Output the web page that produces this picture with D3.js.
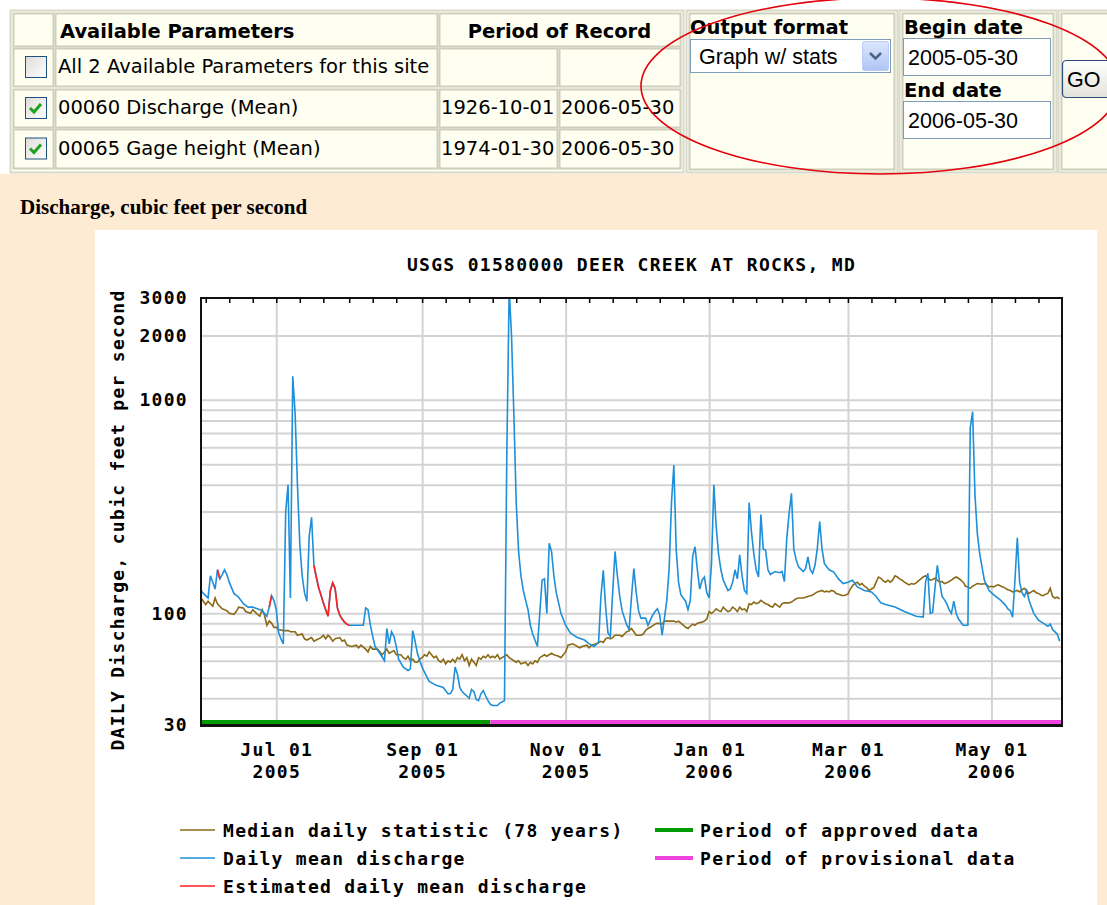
<!DOCTYPE html>
<html>
<head>
<meta charset="utf-8">
<script src="https://cdn.jsdelivr.net/npm/d3@7"></script>
<style>
  html, body { margin: 0; padding: 0; background: #fff; }
  svg { display: block; }
</style>
</head>
<body>
<script>
// ---- form table ----
const paramNames = ['All 2 Available Parameters for this site', '00060 Discharge (Mean)', '00065 Gage height (Mean)'];
const paramChecked = [false, true, true];
const paramBegin = ['', '1926-10-01', '1974-01-30'];
const paramEnd = ['', '2006-05-30', '2006-05-30'];
const outputFormat = 'Graph w/ stats';
const beginDate = '2005-05-30';
const endDate = '2006-05-30';

// ---- chart ----
const chartHeading = 'Discharge, cubic feet per second';
const chartTitle = 'USGS 01580000 DEER CREEK AT ROCKS, MD';
const yLabel = 'DAILY Discharge, cubic feet per second';
const xDomain = ['2005-05-30', '2006-05-31'];
const yDomain = [30, 3000];
const yTickValues = [30, 100, 1000, 2000, 3000];
const yGridValues = [40, 50, 60, 70, 80, 90, 100, 200, 300, 400, 500, 600, 700, 800, 900, 1000, 2000];
const xLabelDates = ['2005-07-01', '2005-09-01', '2005-11-01', '2006-01-01', '2006-03-01', '2006-05-01'];
const approvedPeriod = ['2005-05-30', '2005-09-30'];
const provisionalPeriod = ['2005-09-30', '2006-05-31'];

// daily mean discharge, cfs
const dailyMean = [
  ['2005-05-30',128],['2005-05-31',124],['2005-06-02',118],['2005-06-03',150],['2005-06-04',140],
  ['2005-06-05',130],['2005-06-06',160],['2005-06-07',145],['2005-06-08',152],['2005-06-09',160],
  ['2005-06-10',152],['2005-06-11',140],['2005-06-13',124],['2005-06-15',119],['2005-06-17',111],
  ['2005-06-19',107],['2005-06-21',107],['2005-06-23',105],['2005-06-25',103],['2005-06-27',97],
  ['2005-06-28',107],['2005-06-29',121],['2005-06-30',115],['2005-07-01',104],['2005-07-02',81],
  ['2005-07-03',76],['2005-07-04',72],['2005-07-05',300],['2005-07-06',400],['2005-07-07',118],
  ['2005-07-08',1290],['2005-07-09',870],['2005-07-10',400],['2005-07-11',211],['2005-07-12',150],
  ['2005-07-13',125],['2005-07-14',114],['2005-07-15',230],['2005-07-16',282],['2005-07-17',168],
  ['2005-07-18',148],['2005-07-19',132],['2005-07-20',122],['2005-07-21',112],['2005-07-22',104],
  ['2005-07-23',97],['2005-07-24',128],['2005-07-25',139],['2005-07-26',131],['2005-07-27',106],
  ['2005-07-28',98],['2005-07-29',94],['2005-07-30',91],['2005-07-31',89],['2005-08-01',88],
  ['2005-08-07',88],['2005-08-08',106],['2005-08-09',104],['2005-08-10',88],['2005-08-11',78],
  ['2005-08-12',70],['2005-08-14',65],['2005-08-16',60],['2005-08-17',85],['2005-08-18',72],
  ['2005-08-19',82],['2005-08-20',78],['2005-08-21',70],['2005-08-22',61],['2005-08-24',56],
  ['2005-08-26',54],['2005-08-27',55],['2005-08-28',83],['2005-08-29',74],['2005-08-30',65],
  ['2005-08-31',60],['2005-09-01',56],['2005-09-02',53],['2005-09-04',48],['2005-09-07',46],
  ['2005-09-10',45],['2005-09-12',42],['2005-09-13',42],['2005-09-14',44],['2005-09-15',56],
  ['2005-09-16',52],['2005-09-17',45],['2005-09-18',43],['2005-09-19',42],['2005-09-20',41],
  ['2005-09-21',40],['2005-09-22',44],['2005-09-23',43],['2005-09-24',39.5],['2005-09-25',39],
  ['2005-09-26',42],['2005-09-27',43.5],['2005-09-28',41],['2005-09-29',39],['2005-09-30',37.5],
  ['2005-10-01',37],['2005-10-03',37],['2005-10-04',38],['2005-10-06',39],['2005-10-07',560],
  ['2005-10-08',3300],['2005-10-09',2000],['2005-10-10',850],['2005-10-11',330],['2005-10-12',195],
  ['2005-10-13',150],['2005-10-14',128],['2005-10-15',115],['2005-10-16',104],['2005-10-17',88],
  ['2005-10-18',80],['2005-10-20',70],['2005-10-21',100],['2005-10-22',143],['2005-10-23',145],
  ['2005-10-24',100],['2005-10-25',213],['2005-10-26',195],['2005-10-27',150],['2005-10-28',125],
  ['2005-10-29',112],['2005-10-30',100],['2005-11-01',88],['2005-11-03',81],['2005-11-06',77],
  ['2005-11-09',75],['2005-11-11',72],['2005-11-13',70],['2005-11-15',73],['2005-11-16',120],
  ['2005-11-17',159],['2005-11-18',107],['2005-11-19',81],['2005-11-20',78],['2005-11-21',126],
  ['2005-11-22',195],['2005-11-23',150],['2005-11-24',120],['2005-11-25',103],['2005-11-27',88],
  ['2005-11-28',84],['2005-11-29',120],['2005-11-30',162],['2005-12-01',125],['2005-12-02',103],
  ['2005-12-03',95],['2005-12-05',95],['2005-12-06',88],['2005-12-07',93],['2005-12-08',98],
  ['2005-12-09',102],['2005-12-10',105],['2005-12-11',98],['2005-12-12',79],['2005-12-13',95],
  ['2005-12-14',115],['2005-12-15',162],['2005-12-16',330],['2005-12-17',495],['2005-12-18',200],
  ['2005-12-19',140],['2005-12-20',122],['2005-12-22',114],['2005-12-23',104],['2005-12-24',115],
  ['2005-12-25',185],['2005-12-26',205],['2005-12-27',160],['2005-12-28',130],['2005-12-29',143],
  ['2005-12-30',148],['2005-12-31',125],['2006-01-01',118],['2006-01-02',171],['2006-01-03',400],
  ['2006-01-04',255],['2006-01-05',190],['2006-01-06',160],['2006-01-07',143],['2006-01-09',128],
  ['2006-01-10',130],['2006-01-11',140],['2006-01-12',160],['2006-01-13',145],['2006-01-14',188],
  ['2006-01-15',150],['2006-01-16',128],['2006-01-17',124],['2006-01-18',330],['2006-01-19',240],
  ['2006-01-20',190],['2006-01-21',160],['2006-01-22',148],['2006-01-23',290],['2006-01-24',200],
  ['2006-01-25',198],['2006-01-26',160],['2006-01-27',152],['2006-01-29',157],['2006-01-31',155],
  ['2006-02-01',157],['2006-02-02',141],['2006-02-03',224],['2006-02-04',294],['2006-02-05',365],
  ['2006-02-06',200],['2006-02-07',178],['2006-02-08',165],['2006-02-10',157],['2006-02-11',162],
  ['2006-02-12',184],['2006-02-13',160],['2006-02-14',154],['2006-02-15',168],['2006-02-16',202],
  ['2006-02-17',269],['2006-02-18',200],['2006-02-19',171],['2006-02-21',160],['2006-02-23',156],
  ['2006-02-25',145],['2006-02-27',138],['2006-03-01',140],['2006-03-03',143],['2006-03-04',138],
  ['2006-03-05',133],['2006-03-08',128],['2006-03-11',126],['2006-03-13',120],['2006-03-15',112],
  ['2006-03-17',110],['2006-03-21',107],['2006-03-25',102],['2006-03-30',97],['2006-04-02',96],
  ['2006-04-03',140],['2006-04-04',154],['2006-04-05',100],['2006-04-06',101],['2006-04-07',131],
  ['2006-04-08',168],['2006-04-09',140],['2006-04-10',120],['2006-04-11',116],['2006-04-12',111],
  ['2006-04-13',104],['2006-04-14',100],['2006-04-15',114],['2006-04-16',100],['2006-04-17',94],
  ['2006-04-19',88],['2006-04-21',88],['2006-04-22',740],['2006-04-23',880],['2006-04-24',360],
  ['2006-04-25',237],['2006-04-26',191],['2006-04-27',165],['2006-04-28',143],['2006-04-30',128],
  ['2006-05-02',122],['2006-05-05',115],['2006-05-07',109],['2006-05-08',105],['2006-05-09',103],
  ['2006-05-10',96],['2006-05-11',143],['2006-05-12',226],['2006-05-13',140],['2006-05-14',125],
  ['2006-05-15',120],['2006-05-16',128],['2006-05-17',115],['2006-05-19',100],['2006-05-21',93],
  ['2006-05-23',90],['2006-05-25',87],['2006-05-26',89],['2006-05-27',84],['2006-05-29',80],
  ['2006-05-30',74]
];

// estimated days, drawn in red over the daily line
const estimatedJun06 = [['2005-06-06',160],['2005-06-07',145]];
const estimatedJun29 = [['2005-06-28',107],['2005-06-29',121]];
const estimatedJul = [
  ['2005-07-17',168],['2005-07-18',148],['2005-07-19',132],['2005-07-20',122],['2005-07-21',112],
  ['2005-07-22',104],['2005-07-23',97],['2005-07-24',128],['2005-07-25',139],['2005-07-26',131],
  ['2005-07-27',106],['2005-07-28',98],['2005-07-29',94],['2005-07-30',91],['2005-07-31',89],
  ['2005-08-01',88]
];

// median daily statistic (78 years)
const medianDaily = [
  ['2005-05-30',118],['2005-06-01',110],['2005-06-02',114],['2005-06-04',108],['2005-06-05',118],
  ['2005-06-06',111],['2005-06-08',105],['2005-06-10',103],['2005-06-11',100],['2005-06-13',99],
  ['2005-06-14',102],['2005-06-15',107],['2005-06-17',106],['2005-06-18',102],['2005-06-20',100],
  ['2005-06-21',104],['2005-06-23',99],['2005-06-24',97],['2005-06-25',104],['2005-06-26',98],
  ['2005-06-27',88],['2005-06-28',92],['2005-06-29',90],['2005-06-30',86],['2005-07-01',86],
  ['2005-07-02',84],['2005-07-04',83],['2005-07-06',83],['2005-07-07',82],['2005-07-09',82],
  ['2005-07-10',79],['2005-07-12',80],['2005-07-13',76],['2005-07-14',75],['2005-07-16',77],
  ['2005-07-17',74],['2005-07-18',75],['2005-07-20',77],['2005-07-21',79],['2005-07-22',76],
  ['2005-07-23',79],['2005-07-24',77],['2005-07-25',74],['2005-07-26',76],['2005-07-28',77],
  ['2005-07-29',74],['2005-07-30',75],['2005-07-31',71],['2005-08-02',70],['2005-08-04',71],
  ['2005-08-05',69],['2005-08-06',71],['2005-08-08',68],['2005-08-09',66],['2005-08-10',70],
  ['2005-08-11',68],['2005-08-13',68],['2005-08-14',66],['2005-08-15',64],['2005-08-16',66],
  ['2005-08-17',68],['2005-08-18',65],['2005-08-19',66],['2005-08-20',67],['2005-08-21',64],
  ['2005-08-23',64],['2005-08-24',62],['2005-08-25',61],['2005-08-26',63],['2005-08-27',60],
  ['2005-08-28',61],['2005-08-29',59],['2005-08-30',59],['2005-08-31',61],['2005-09-01',62],
  ['2005-09-02',64],['2005-09-03',63],['2005-09-04',66],['2005-09-05',64],['2005-09-06',62],
  ['2005-09-07',63],['2005-09-08',60],['2005-09-09',59],['2005-09-10',61],['2005-09-11',58],
  ['2005-09-12',60],['2005-09-13',59],['2005-09-14',61],['2005-09-15',59],['2005-09-16',62],
  ['2005-09-17',61],['2005-09-18',64],['2005-09-19',60],['2005-09-20',62],['2005-09-21',57],
  ['2005-09-22',61],['2005-09-23',59],['2005-09-24',57],['2005-09-25',62],['2005-09-26',61],
  ['2005-09-27',63],['2005-09-28',62],['2005-09-29',64],['2005-09-30',62],['2005-10-01',63],
  ['2005-10-02',62],['2005-10-03',64],['2005-10-04',61],['2005-10-05',62],['2005-10-06',63],
  ['2005-10-07',64],['2005-10-08',62],['2005-10-10',60],['2005-10-11',59],['2005-10-12',60],
  ['2005-10-13',58],['2005-10-15',59],['2005-10-16',57],['2005-10-17',59],['2005-10-18',58],
  ['2005-10-19',60],['2005-10-20',59],['2005-10-21',62],['2005-10-23',64],['2005-10-24',63],
  ['2005-10-26',65],['2005-10-27',64],['2005-10-29',63],['2005-10-30',62],['2005-10-31',64],
  ['2005-11-01',66],['2005-11-02',71],['2005-11-04',72],['2005-11-05',71],['2005-11-06',70],
  ['2005-11-07',69],['2005-11-08',70],['2005-11-10',71],['2005-11-11',69],['2005-11-12',71],
  ['2005-11-14',72],['2005-11-15',73],['2005-11-16',74],['2005-11-17',73],['2005-11-18',76],
  ['2005-11-19',77],['2005-11-20',76],['2005-11-21',77],['2005-11-22',79],['2005-11-24',79],
  ['2005-11-25',78],['2005-11-26',80],['2005-11-27',82],['2005-11-28',83],['2005-11-29',85],
  ['2005-11-30',82],['2005-12-01',79],['2005-12-03',79],['2005-12-04',80],['2005-12-05',83],
  ['2005-12-06',85],['2005-12-07',86],['2005-12-09',89],['2005-12-10',90],['2005-12-12',89],
  ['2005-12-13',92],['2005-12-15',92],['2005-12-17',92],['2005-12-18',91],['2005-12-19',92],
  ['2005-12-20',90],['2005-12-21',88],['2005-12-22',86],['2005-12-23',85],['2005-12-24',87],
  ['2005-12-25',89],['2005-12-26',88],['2005-12-27',90],['2005-12-29',91],['2005-12-30',92],
  ['2005-12-31',94],['2006-01-01',102],['2006-01-02',100],['2006-01-03',102],['2006-01-04',105],
  ['2006-01-05',103],['2006-01-06',102],['2006-01-07',107],['2006-01-08',104],['2006-01-09',102],
  ['2006-01-10',103],['2006-01-11',107],['2006-01-12',105],['2006-01-13',102],['2006-01-14',107],
  ['2006-01-15',104],['2006-01-16',105],['2006-01-17',102],['2006-01-18',111],['2006-01-19',110],
  ['2006-01-20',113],['2006-01-21',111],['2006-01-22',112],['2006-01-23',115],['2006-01-24',113],
  ['2006-01-25',111],['2006-01-26',110],['2006-01-27',108],['2006-01-28',107],['2006-01-29',111],
  ['2006-01-30',109],['2006-01-31',107],['2006-02-01',111],['2006-02-02',112],['2006-02-04',112],
  ['2006-02-05',113],['2006-02-06',115],['2006-02-07',117],['2006-02-08',118],['2006-02-10',118],
  ['2006-02-11',119],['2006-02-12',120],['2006-02-13',121],['2006-02-14',122],['2006-02-15',124],
  ['2006-02-16',126],['2006-02-17',127],['2006-02-18',128],['2006-02-19',126],['2006-02-20',127],
  ['2006-02-21',126],['2006-02-22',128],['2006-02-23',127],['2006-02-24',124],['2006-02-25',123],
  ['2006-02-26',122],['2006-02-27',121],['2006-02-28',122],['2006-03-01',123],['2006-03-02',130],
  ['2006-03-03',135],['2006-03-04',138],['2006-03-05',140],['2006-03-06',136],['2006-03-07',138],
  ['2006-03-08',134],['2006-03-09',132],['2006-03-10',128],['2006-03-11',130],['2006-03-12',132],
  ['2006-03-13',140],['2006-03-14',148],['2006-03-15',146],['2006-03-16',142],['2006-03-17',140],
  ['2006-03-18',143],['2006-03-19',140],['2006-03-20',143],['2006-03-21',150],['2006-03-22',148],
  ['2006-03-23',145],['2006-03-24',143],['2006-03-25',140],['2006-03-26',138],['2006-03-27',136],
  ['2006-03-28',138],['2006-03-29',137],['2006-03-30',139],['2006-03-31',142],['2006-04-01',145],
  ['2006-04-02',148],['2006-04-03',150],['2006-04-04',147],['2006-04-05',143],['2006-04-06',144],
  ['2006-04-07',146],['2006-04-08',143],['2006-04-09',140],['2006-04-10',141],['2006-04-11',138],
  ['2006-04-12',139],['2006-04-13',141],['2006-04-14',143],['2006-04-15',146],['2006-04-16',148],
  ['2006-04-17',146],['2006-04-18',143],['2006-04-19',140],['2006-04-20',134],['2006-04-21',133],
  ['2006-04-22',131],['2006-04-23',134],['2006-04-24',136],['2006-04-25',138],['2006-04-27',137],
  ['2006-04-28',138],['2006-04-29',136],['2006-04-30',133],['2006-05-01',134],['2006-05-02',133],
  ['2006-05-03',135],['2006-05-04',136],['2006-05-05',134],['2006-05-06',133],['2006-05-07',131],
  ['2006-05-08',129],['2006-05-09',128],['2006-05-10',126],['2006-05-11',127],['2006-05-12',128],
  ['2006-05-13',126],['2006-05-14',129],['2006-05-15',131],['2006-05-16',127],['2006-05-17',124],
  ['2006-05-18',126],['2006-05-19',128],['2006-05-20',125],['2006-05-21',124],['2006-05-22',122],
  ['2006-05-23',121],['2006-05-24',123],['2006-05-25',124],['2006-05-26',131],['2006-05-27',120],
  ['2006-05-28',118],['2006-05-29',119],['2006-05-30',117]
];

const legendLabels = ['Median daily statistic (78 years)', 'Daily mean discharge', 'Estimated daily mean discharge',
  'Period of approved data', 'Period of provisional data'];
const legendColors = ['#8b6a17', '#1e8fd8', '#ff2020', '#009a00', '#ee44dd'];

// ---------------------------------------------------------------
const FORM_FONT = '"DejaVu Sans", Verdana, sans-serif';
const CTRL_FONT = '"Liberation Sans", Arial, sans-serif';
const MONO_FONT = '"DejaVu Sans Mono", monospace';
const CREAM = '#fefef1';
const EDGE = '#cfcfbd';

const svg = d3.select('body').append('svg')
  .attr('width', 1107)
  .attr('height', 905);

const defs = svg.append('defs');
const boxGrad = defs.append('linearGradient').attr('id', 'boxGrad').attr('x1', 0).attr('y1', 0).attr('x2', 1).attr('y2', 1);
boxGrad.append('stop').attr('offset', '0%').attr('stop-color', '#dcdcd6');
boxGrad.append('stop').attr('offset', '100%').attr('stop-color', '#ffffff');
const btnGrad = defs.append('linearGradient').attr('id', 'btnGrad').attr('x1', 0).attr('y1', 0).attr('x2', 0).attr('y2', 1);
btnGrad.append('stop').attr('offset', '0%').attr('stop-color', '#dce7fd');
btnGrad.append('stop').attr('offset', '100%').attr('stop-color', '#aec4f3');
const goGrad = defs.append('linearGradient').attr('id', 'goGrad').attr('x1', 0).attr('y1', 0).attr('x2', 0).attr('y2', 1);
goGrad.append('stop').attr('offset', '0%').attr('stop-color', '#ffffff');
goGrad.append('stop').attr('offset', '100%').attr('stop-color', '#e3e2da');

// page backgrounds
svg.append('rect').attr('width', 1107).attr('height', 905).attr('fill', '#ffffff');
svg.append('rect').attr('y', 174).attr('width', 1107).attr('height', 731).attr('fill', '#fdebd3');

// ---- parameter table ----
function cell(x0, y0, x1, y1) {
  svg.append('rect')
    .attr('x', x0 + 0.5).attr('y', y0 + 0.5)
    .attr('width', x1 - x0).attr('height', y1 - y0)
    .attr('fill', CREAM).attr('stroke', EDGE).attr('stroke-width', 2);
}
function label(x, y, s, opts = {}) {
  return svg.append('text')
    .attr('x', x).attr('y', y)
    .attr('text-anchor', opts.anchor || 'start')
    .style('font-family', opts.font || FORM_FONT)
    .style('font-size', (opts.size || 19.5) + 'px')
    .style('font-weight', opts.bold ? 'bold' : 'normal')
    .style('fill', opts.color || '#000')
    .text(s);
}

svg.append('rect').attr('x', 10.5).attr('y', 10.5).attr('width', 673).attr('height', 162)
  .attr('fill', CREAM).attr('stroke', '#d9d9c9').attr('stroke-width', 2);

const colEdges = [[13, 53], [55, 437], [439, 557], [559, 680]];
const rowEdges = [[13, 46], [48, 86], [89, 127], [129, 168]];
const rowBaselines = [73, 114, 155];

cell(colEdges[0][0], rowEdges[0][0], colEdges[0][1], rowEdges[0][1]);
cell(colEdges[1][0], rowEdges[0][0], colEdges[1][1], rowEdges[0][1]);
cell(colEdges[2][0], rowEdges[0][0], colEdges[3][1], rowEdges[0][1]);
label(60, 38, 'Available Parameters', { bold: true });
label((colEdges[2][0] + colEdges[3][1]) / 2, 38, 'Period of Record', { bold: true, anchor: 'middle' });

paramNames.forEach((name, i) => {
  const r = rowEdges[i + 1];
  colEdges.forEach(c => cell(c[0], r[0], c[1], r[1]));
  const cy = (r[0] + r[1]) / 2;
  // checkbox
  svg.append('rect')
    .attr('x', 25.5).attr('y', cy - 10.5).attr('width', 21).attr('height', 21)
    .attr('fill', 'url(#boxGrad)').attr('stroke', '#1c5180').attr('stroke-width', 1);
  if (paramChecked[i]) {
    svg.append('path')
      .attr('d', `M30,${cy} L34,${cy + 4} L41,${cy - 4}`)
      .attr('fill', 'none').attr('stroke', '#21a121').attr('stroke-width', 3);
  }
  label(58, rowBaselines[i], name);
  if (paramBegin[i]) label(441, rowBaselines[i], paramBegin[i]);
  if (paramEnd[i]) label(561, rowBaselines[i], paramEnd[i]);
});

// ---- output format / dates / go ----
[[686, 897], [899, 1056], [1058, 1120]].forEach(p => {
  svg.append('rect').attr('x', p[0] + 0.5).attr('y', 10.5).attr('width', p[1] - p[0]).attr('height', 162)
    .attr('fill', CREAM).attr('stroke', '#d9d9c9').attr('stroke-width', 2);
  cell(p[0] + 3, 13, p[1] - 3, 169);
});

label(690, 34, 'Output format', { bold: true });
svg.append('rect').attr('x', 690.5).attr('y', 39.5).attr('width', 200).attr('height', 33)
  .attr('fill', '#fff').attr('stroke', '#7f9db9');
svg.append('rect').attr('x', 862.5).attr('y', 41.5).attr('width', 26).attr('height', 29).attr('rx', 2)
  .attr('fill', 'url(#btnGrad)').attr('stroke', '#b9cdf6');
svg.append('path').attr('d', 'M870,53 L875.5,58.5 L881,53')
  .attr('fill', 'none').attr('stroke', '#4d6185').attr('stroke-width', 2.5);
label(699, 64, outputFormat, { font: CTRL_FONT, size: 21.5 });

label(904, 34, 'Begin date', { bold: true });
svg.append('rect').attr('x', 903.5).attr('y', 38.5).attr('width', 147).attr('height', 37)
  .attr('fill', '#fff').attr('stroke', '#7f9db9');
label(908, 65, beginDate, { font: CTRL_FONT, size: 21.5 });

label(904, 97, 'End date', { bold: true });
svg.append('rect').attr('x', 903.5).attr('y', 101.5).attr('width', 147).attr('height', 37)
  .attr('fill', '#fff').attr('stroke', '#7f9db9');
label(908, 128, endDate, { font: CTRL_FONT, size: 21.5 });

svg.append('rect').attr('x', 1062.5).attr('y', 60.5).attr('width', 52).attr('height', 37).attr('rx', 4)
  .attr('fill', 'url(#goGrad)').attr('stroke', '#2d4d7a').attr('stroke-width', 1.2);
label(1067, 87, 'GO', { font: CTRL_FONT, size: 21.5 });

// red circling annotation
svg.append('ellipse')
  .attr('cx', 880).attr('cy', 86).attr('rx', 239).attr('ry', 88)
  .attr('fill', 'none').attr('stroke', '#e3000b').attr('stroke-width', 1.6);

// ---- chart section ----
label(20, 214, chartHeading, { font: '"Liberation Serif", "Times New Roman", serif', size: 21, bold: true });
svg.append('rect').attr('x', 95).attr('y', 230).attr('width', 1002).attr('height', 675).attr('fill', '#fff');

const parse = d3.utcParse('%Y-%m-%d');
const plot = { left: 201, right: 1062, top: 298, bottom: 725 };

const x = d3.scaleUtc()
  .domain(xDomain.map(parse))
  .range([plot.left, plot.right]);
const y = d3.scaleLog()
  .domain(yDomain)
  .range([plot.bottom, plot.top]);

function monoText(sel, size) {
  sel.style('font-family', MONO_FONT)
    .style('font-size', (size || 18) + 'px')
    .style('font-weight', 'bold')
    .style('letter-spacing', '1.3px')
    .style('fill', '#000');
}

// gridlines
const yGrid = svg.append('g')
  .attr('transform', `translate(${plot.left},0)`)
  .call(d3.axisLeft(y).tickValues(yGridValues).tickSize(-(plot.right - plot.left)).tickFormat(''));
yGrid.select('.domain').remove();
yGrid.selectAll('line').attr('stroke', '#d3d3d3').attr('stroke-width', 2);

const xGrid = svg.append('g')
  .attr('transform', `translate(0,${plot.bottom})`)
  .call(d3.axisBottom(x).tickValues(xLabelDates.map(parse)).tickSize(-(plot.bottom - plot.top)).tickFormat(''));
xGrid.select('.domain').remove();
xGrid.selectAll('line').attr('stroke', '#d3d3d3').attr('stroke-width', 2);

// minor ticks along the top edge (1st, 11th, 21st of each month)
const minorDates = d3.utcDay.range(x.domain()[0], x.domain()[1])
  .filter(d => [1, 11, 21].includes(d.getUTCDate()));
const topTicks = svg.append('g')
  .attr('transform', `translate(0,${plot.top})`)
  .call(d3.axisTop(x).tickValues(minorDates).tickSize(-5).tickFormat(''));
topTicks.select('.domain').remove();
topTicks.selectAll('line').attr('stroke', '#000').attr('stroke-width', 1.5);

// approved / provisional bars
[[approvedPeriod, legendColors[3]], [provisionalPeriod, legendColors[4]]].forEach(([p, c]) => {
  svg.append('rect')
    .attr('x', x(parse(p[0])))
    .attr('y', plot.bottom - 5)
    .attr('width', x(parse(p[1])) - x(parse(p[0])))
    .attr('height', 4)
    .attr('fill', c);
});

// data lines
defs.append('clipPath').attr('id', 'plotClip')
  .append('rect')
  .attr('x', plot.left).attr('y', plot.top)
  .attr('width', plot.right - plot.left).attr('height', plot.bottom - plot.top);

const line = d3.line()
  .x(d => x(parse(d[0])))
  .y(d => y(d[1]));

const lines = svg.append('g').attr('clip-path', 'url(#plotClip)');
lines.append('path').datum(medianDaily)
  .attr('d', line).attr('fill', 'none')
  .attr('stroke', legendColors[0]).attr('stroke-width', 1.6);
lines.append('path').datum(dailyMean)
  .attr('d', line).attr('fill', 'none')
  .attr('stroke', legendColors[1]).attr('stroke-width', 1.6);
[estimatedJun06, estimatedJun29, estimatedJul].forEach(run => {
  lines.append('path').datum(run)
    .attr('d', line).attr('fill', 'none')
    .attr('stroke', legendColors[2]).attr('stroke-width', 1.6);
});

// frame
svg.append('rect')
  .attr('x', plot.left).attr('y', plot.top)
  .attr('width', plot.right - plot.left).attr('height', plot.bottom - plot.top)
  .attr('fill', 'none').attr('stroke', '#111').attr('stroke-width', 2);
svg.append('line')
  .attr('x1', plot.left - 1).attr('x2', plot.right + 1)
  .attr('y1', plot.bottom + 1).attr('y2', plot.bottom + 1)
  .attr('stroke', '#111').attr('stroke-width', 2);

// y axis labels
const yAxis = svg.append('g')
  .attr('transform', `translate(${plot.left},0)`)
  .call(d3.axisLeft(y).tickValues(yTickValues).tickSize(0).tickPadding(13).tickFormat(d3.format('d')));
yAxis.select('.domain').remove();
yAxis.selectAll('text').call(monoText);

// x axis labels (two lines)
const fmtMonth = d3.utcFormat('%b %d');
const fmtYear = d3.utcFormat('%Y');
const xAxis = svg.append('g')
  .attr('transform', `translate(0,${plot.bottom})`)
  .call(d3.axisBottom(x).tickValues(xLabelDates.map(parse)).tickSize(0).tickPadding(18).tickFormat(''));
xAxis.select('.domain').remove();
xAxis.selectAll('.tick text').each(function (d) {
  const t = d3.select(this);
  t.append('tspan').attr('x', 0).text(fmtMonth(d));
  t.append('tspan').attr('x', 0).attr('dy', 22).text(fmtYear(d));
}).call(monoText);

// title and y label
svg.append('text')
  .attr('x', (plot.left + plot.right) / 2).attr('y', 271)
  .attr('text-anchor', 'middle')
  .text(chartTitle).call(monoText);
svg.append('text')
  .attr('transform', 'translate(124,520) rotate(-90)')
  .attr('text-anchor', 'middle')
  .text(yLabel).call(monoText);

// legend
const legendPos = [[180, 830], [180, 858], [180, 886], [655, 830], [655, 858]];
legendLabels.forEach((name, i) => {
  const [lx, ly] = legendPos[i];
  const thick = i >= 3;
  svg.append('line')
    .attr('x1', lx).attr('x2', lx + (thick ? 38 : 35))
    .attr('y1', ly).attr('y2', ly)
    .attr('stroke', legendColors[i]).attr('stroke-width', thick ? 4 : 1.6);
  svg.append('text')
    .attr('x', lx + (thick ? 45 : 43)).attr('y', ly + 6.5)
    .text(name).call(monoText);
});
</script>
</body>
</html>
